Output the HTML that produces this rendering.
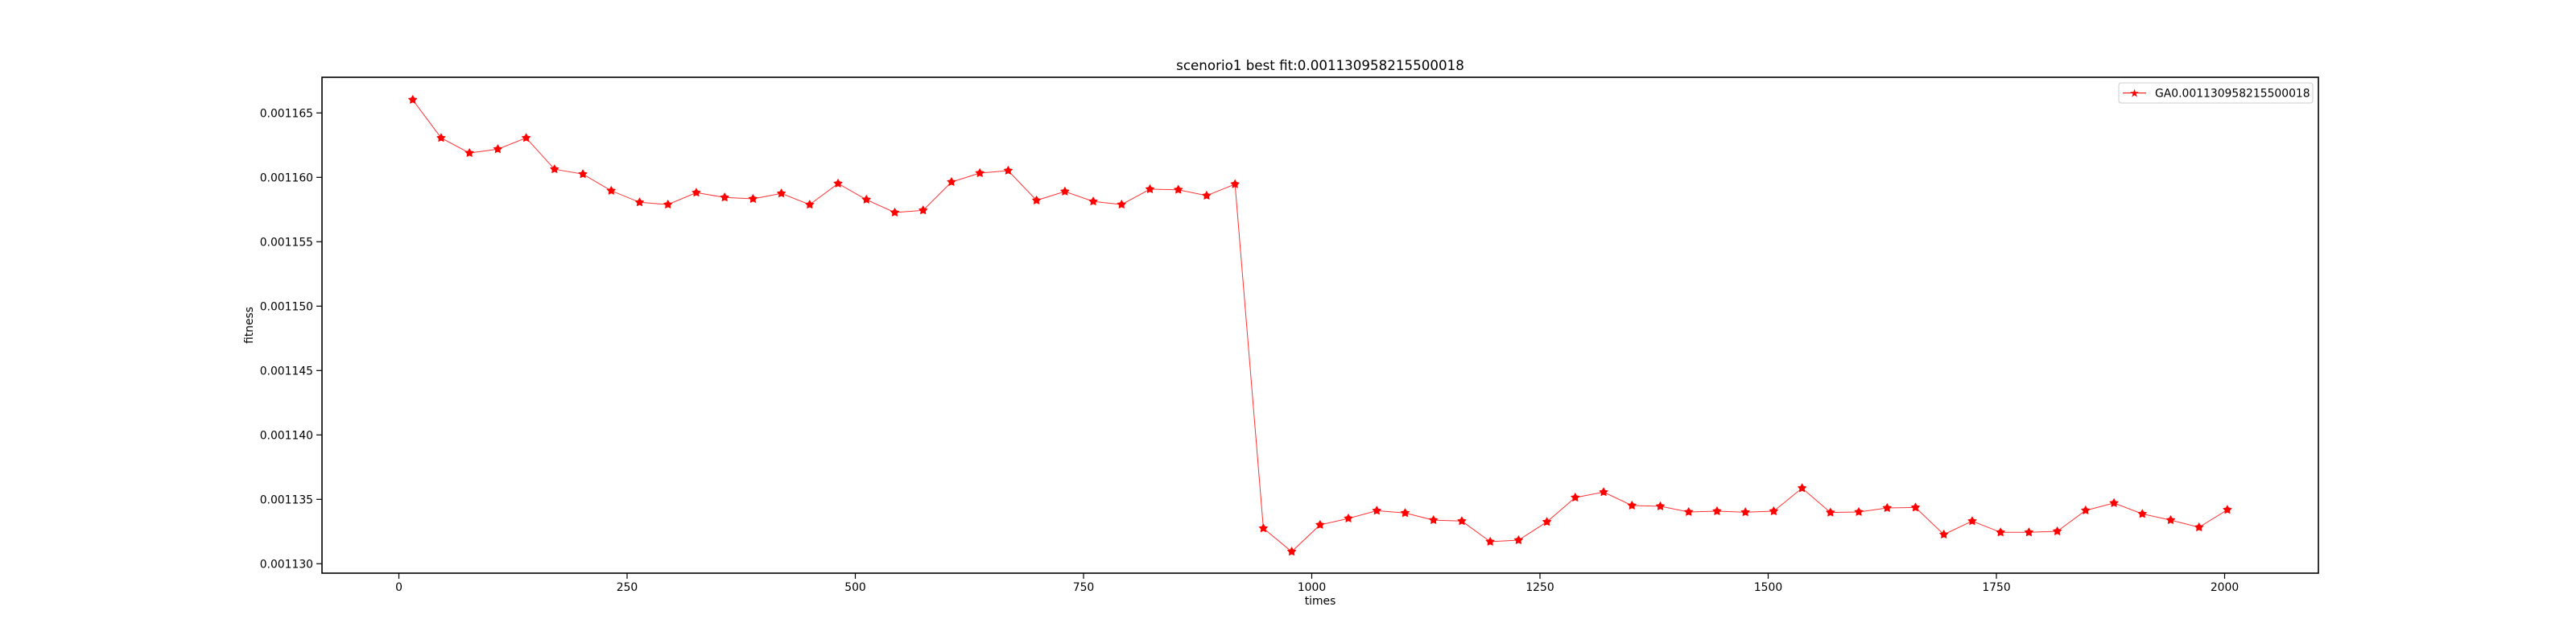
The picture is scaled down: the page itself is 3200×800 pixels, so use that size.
<!DOCTYPE html>
<html><head><meta charset="utf-8">
<style>
html,body{margin:0;padding:0;background:#fff;}
svg{display:block;font-family:"DejaVu Sans","Liberation Sans",sans-serif;}
</style></head>
<body>
<svg id="chart" width="3200" height="800" viewBox="0 0 3200 800" xmlns="http://www.w3.org/2000/svg">
<rect x="0" y="0" width="3200" height="800" fill="#fff"/>
<text x="1640" y="87" font-size="16.7" text-anchor="middle">scenorio1 best fit:0.001130958215500018</text>
<text x="1640" y="751" font-size="13.9" text-anchor="middle">times</text>
<text x="314" y="404" font-size="13.9" text-anchor="middle" transform="rotate(-90 314 404)">fitness</text>
<g id="ticks"></g>
<g id="series"></g>
<rect x="400" y="96" width="2480" height="616" fill="none" stroke="#000" stroke-width="1.6"/>
<g>
<rect x="2632" y="103" width="241" height="25" rx="3" fill="#fff" fill-opacity="0.8" stroke="#ccc" stroke-width="1"/>
<line x1="2637" y1="115.5" x2="2666" y2="115.5" stroke="#ff0000" stroke-width="1"/>
<text x="2651.5" y="120.5" font-size="14" fill="#ff0000" text-anchor="middle">★</text>
<text x="2677" y="120.5" font-size="13.9">GA0.001130958215500018</text>
</g>
</svg>
<script>
// data (fitness in units of 1e-6)
const xStart = 15.2;
const xStep = 31.06;
const fitnessValues = [
1166.02,1163.06,1161.89,1162.19,1163.06,1160.63,1160.25,1158.96,1158.06,1157.89,
1158.81,1158.44,1158.33,1158.75,1157.88,1159.52,1158.27,1157.27,1157.44,1159.64,
1160.33,1160.52,1158.21,1158.90,1158.13,1157.89,1159.08,1159.04,1158.58,1159.47,
1132.75,1130.94,1133.02,1133.52,1134.12,1133.94,1133.39,1133.31,1131.71,1131.83,
1133.25,1135.14,1135.56,1134.52,1134.46,1134.02,1134.08,1134.00,1134.08,1135.87,
1133.98,1134.02,1134.33,1134.37,1132.27,1133.31,1132.44,1132.44,1132.52,1134.14,
1134.71,1133.87,1133.39,1132.83,1134.19];
const xTicks = [0,250,500,750,1000,1250,1500,1750,2000];
const yTicks = [1130,1135,1140,1145,1150,1155,1160,1165];
const yTickLabels = ["0.001130","0.001135","0.001140","0.001145","0.001150","0.001155","0.001160","0.001165"];

const NS = "http://www.w3.org/2000/svg";
function xs(v){ return 495.5 + (v) * 1.134; }
function ys(v){ return 140.3 + (1165 - v) * 16; }

const tg = document.getElementById('ticks');
xTicks.forEach(t => {
  const l = document.createElementNS(NS,'line');
  l.setAttribute('x1', xs(t)); l.setAttribute('x2', xs(t));
  l.setAttribute('y1', 712); l.setAttribute('y2', 719);
  l.setAttribute('stroke','#000'); l.setAttribute('stroke-width','1.2');
  
  
  tg.appendChild(l);
  const tx = document.createElementNS(NS,'text');
  tx.setAttribute('x', xs(t)); tx.setAttribute('y', 734);
  tx.setAttribute('font-size','13.9'); tx.setAttribute('text-anchor','middle');
  tx.textContent = String(t);
  
  
  tg.appendChild(tx);
});
yTicks.forEach((t,i) => {
  const l = document.createElementNS(NS,'line');
  l.setAttribute('x1', 393); l.setAttribute('x2', 400);
  l.setAttribute('y1', ys(t)); l.setAttribute('y2', ys(t));
  l.setAttribute('stroke','#000'); l.setAttribute('stroke-width','1.2');
  
  
  tg.appendChild(l);
  const tx = document.createElementNS(NS,'text');
  tx.setAttribute('x', 389); tx.setAttribute('y', ys(t) + 5);
  tx.setAttribute('font-size','13.9'); tx.setAttribute('text-anchor','end');
  tx.textContent = yTickLabels[i];
  
  
  tg.appendChild(tx);
});

const sg = document.getElementById('series');
const pts = fitnessValues.map((v,i) => [xs(xStart + xStep*i), ys(v)]);
const pl = document.createElementNS(NS,'polyline');
pl.setAttribute('points', pts.map(p => p[0].toFixed(1)+','+p[1].toFixed(1)).join(' '));
pl.setAttribute('fill','none'); pl.setAttribute('stroke','#ff0000'); pl.setAttribute('stroke-width','1');
pl.setAttribute('stroke-opacity','0.8');


sg.appendChild(pl);
function starPath(cx, cy, R, r){
  let d = '';
  for (let k = 0; k < 10; k++){
    const a = -Math.PI/2 + k*Math.PI/5;
    const rr = (k % 2 === 0) ? R : r;
    d += (k ? 'L' : 'M') + (cx + rr*Math.cos(a)).toFixed(2) + ',' + (cy + rr*Math.sin(a)).toFixed(2);
  }
  return d + 'Z';
}
pts.forEach(p => {
  const s = document.createElementNS(NS,'path');
  s.setAttribute('d', starPath(p[0], p[1], 5, 2.7));
  s.setAttribute('fill','#ff0000'); s.setAttribute('stroke','#ff0000'); s.setAttribute('stroke-width','1.1');
  
  
  sg.appendChild(s);
});
</script>
</body></html>
